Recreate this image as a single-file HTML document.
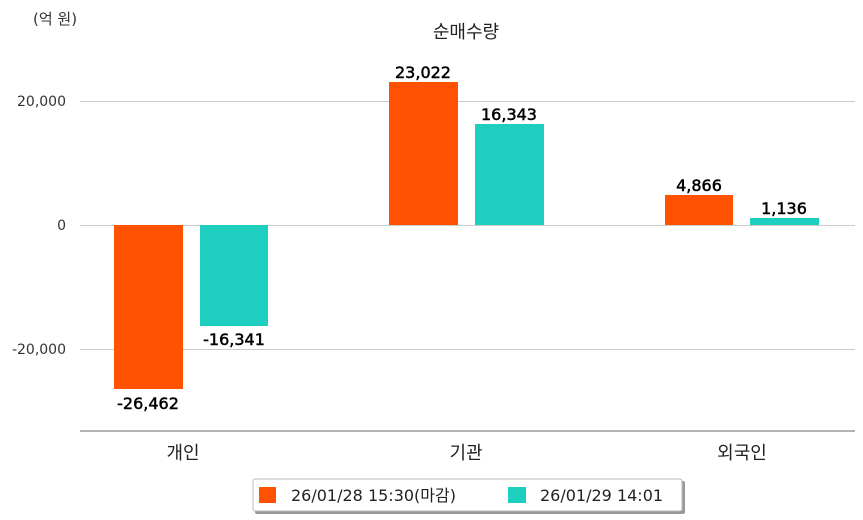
<!DOCTYPE html>
<html><head><meta charset="utf-8"><style>
html,body{margin:0;padding:0;background:#fff;}
svg{display:block;font-family:"DejaVu Sans","Noto Sans CJK KR",sans-serif;}
</style></head><body>
<svg width="863" height="520" viewBox="0 0 863 520" xmlns="http://www.w3.org/2000/svg">
<rect width="863" height="520" fill="#fff"/>
<text x="33" y="24" font-size="15" fill="#333">(억 원)</text>
<text x="466" y="38" font-size="18" fill="#222" text-anchor="middle">순매수량</text>
<g stroke="#cccccc" stroke-width="1">
<line x1="80" y1="101.5" x2="855" y2="101.5"/>
<line x1="80" y1="225.5" x2="855" y2="225.5"/>
<line x1="80" y1="349.5" x2="855" y2="349.5"/>
</g>
<line x1="80" y1="431" x2="855" y2="431" stroke="#888" stroke-width="1.3"/>
<g font-size="14" fill="#333" text-anchor="end">
<text x="66" y="106">20,000</text>
<text x="66" y="230">0</text>
<text x="66" y="354">-20,000</text>
</g>
<g fill="#ff5200">
<rect x="114" y="225" width="69" height="164"/>
<rect x="389" y="82" width="69" height="143"/>
<rect x="665" y="195" width="68" height="30"/>
</g>
<g fill="#1ecebe">
<rect x="200" y="225" width="68" height="101"/>
<rect x="475" y="124" width="69" height="101"/>
<rect x="750" y="218" width="69" height="7"/>
</g>
<g font-size="16" fill="#000" text-anchor="middle" stroke="#000" stroke-width="0.5">
<text x="148" y="409">-26,462</text>
<text x="234" y="345">-16,341</text>
<text x="423" y="78">23,022</text>
<text x="509" y="120">16,343</text>
<text x="699" y="191">4,866</text>
<text x="784" y="214">1,136</text>
</g>
<g font-size="18" fill="#222" text-anchor="middle">
<text x="183" y="459">개인</text>
<text x="466" y="459">기관</text>
<text x="742" y="459">외국인</text>
</g>
<rect x="255" y="481" width="430" height="33" fill="#999" rx="2"/>
<rect x="253" y="479" width="429" height="32" fill="#fff" stroke="#bbb" stroke-width="1" rx="2"/>
<rect x="259" y="487" width="17" height="16" fill="#ff5200"/>
<text x="291" y="501" font-size="16" fill="#222">26/01/28 15:30(마감)</text>
<rect x="508" y="487" width="18" height="16" fill="#1ecebe"/>
<text x="540" y="501" font-size="16" fill="#222">26/01/29 14:01</text>
</svg>
</body></html>
